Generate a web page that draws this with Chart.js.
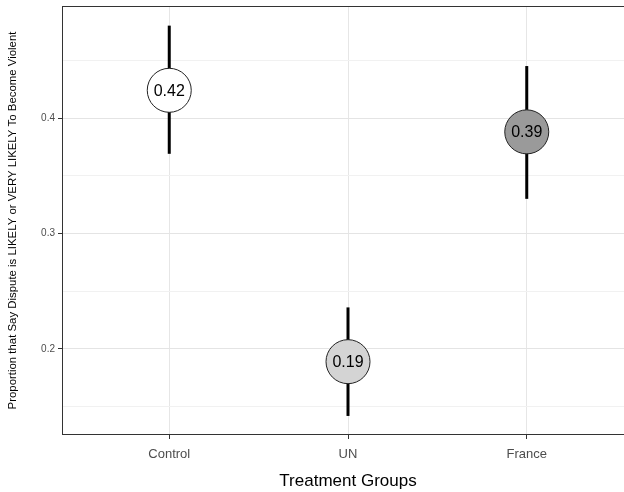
<!DOCTYPE html>
<html>
<head>
<meta charset="utf-8">
<script src="https://cdn.jsdelivr.net/npm/chart.js@4"></script>
<style>
  body { margin: 0; overflow: hidden; background: #fff; }
  #wrap { width: 640px; height: 492px; }
</style>
</head>
<body>
<div id="wrap"><canvas id="myChart" width="640" height="492"></canvas></div>
<script>
'use strict';

let groups = ['Control', 'UN', 'France'];
let groupPos = [1, 2, 3];
let proportions = [0.424, 0.189, 0.388];
let lowerBound = [0.369, 0.142, 0.330];
let upperBound = [0.480, 0.236, 0.445];
let pointLabels = ['0.42', '0.19', '0.39'];
let pointColors = ['#ffffff', '#d4d4d4', '#9a9a9a'];
let yTicks = [0.15, 0.2, 0.25, 0.3, 0.35, 0.4, 0.45];
let yLabelled = [0.2, 0.3, 0.4];

function isMajor(v) {
  return yLabelled.some(m => Math.abs(m - v) < 1e-9);
}

// error bars under the points, labels on top
let errorBars = {
  id: 'errorBars',
  beforeDatasetsDraw(chart) {
    let ctx = chart.ctx;
    let x = chart.scales.x;
    let y = chart.scales.y;
    ctx.save();
    ctx.strokeStyle = '#000';
    ctx.lineWidth = 3;
    for (let i = 0; i < groupPos.length; i++) {
      let px = x.getPixelForValue(groupPos[i]);
      ctx.beginPath();
      ctx.moveTo(px, y.getPixelForValue(lowerBound[i]));
      ctx.lineTo(px, y.getPixelForValue(upperBound[i]));
      ctx.stroke();
    }
    ctx.restore();
  },
  afterDatasetsDraw(chart) {
    let ctx = chart.ctx;
    let meta = chart.getDatasetMeta(0);
    ctx.save();
    ctx.font = '16px "Liberation Sans", Arial, sans-serif';
    ctx.fillStyle = '#000';
    ctx.textAlign = 'center';
    ctx.textBaseline = 'middle';
    meta.data.forEach((pt, i) => {
      ctx.fillText(pointLabels[i], pt.x, pt.y + 1);
    });
    ctx.restore();
  },
  afterDraw(chart) {
    let a = chart.chartArea;
    let ctx = chart.ctx;
    ctx.save();
    ctx.strokeStyle = '#333';
    ctx.lineWidth = 1;
    ctx.strokeRect(a.left + 0.5, a.top + 0.5, a.right - a.left - 1, a.bottom - a.top - 1);
    ctx.restore();
  }
};

let ctx = document.getElementById('myChart').getContext('2d');
let chart = new Chart(ctx, {
  type: 'scatter',
  data: {
    datasets: [{
      data: groupPos.map((g, i) => ({ x: g, y: proportions[i] })),
      backgroundColor: pointColors,
      borderColor: '#222',
      borderWidth: 1,
      pointRadius: 22,
      pointHoverRadius: 22
    }]
  },
  options: {
    responsive: false,
    animation: false,
    layout: { autoPadding: false, padding: { left: 0, top: 6, right: 6, bottom: 0 } },
    plugins: { legend: { display: false }, tooltip: { enabled: false } },
    scales: {
      x: {
        type: 'linear',
        min: 0.4,
        max: 3.6,
        afterBuildTicks(scale) {
          scale.ticks = groupPos.map(v => ({ value: v }));
        },
        afterFit(scale) {
          scale.height = 57;
          scale.paddingLeft = 0;
          scale.paddingRight = 0;
        },
        border: { display: false },
        grid: {
          color: '#e6e6e6',
          lineWidth: 1,
          tickColor: '#333',
          tickLength: 4
        },
        ticks: {
          autoSkip: false,
          maxRotation: 0,
          padding: 8,
          color: '#4d4d4d',
          font: { family: '"Liberation Sans", Arial, sans-serif', size: 13 },
          callback: v => groups[v - 1]
        },
        title: {
          display: true,
          text: 'Treatment Groups',
          color: '#000',
          font: { family: '"Liberation Sans", Arial, sans-serif', size: 17 },
          padding: { top: 4, bottom: 0 }
        }
      },
      y: {
        min: 0.1255,
        max: 0.497,
        afterBuildTicks(scale) {
          scale.ticks = yTicks.map(v => ({ value: v }));
        },
        afterFit(scale) {
          scale.width = 62;
          scale.paddingTop = 0;
          scale.paddingBottom = 0;
        },
        border: { display: false },
        grid: {
          color: c => isMajor(c.tick.value) ? '#e4e4e4' : '#f1f1f1',
          lineWidth: 1,
          tickColor: c => isMajor(c.tick.value) ? '#333' : 'rgba(0,0,0,0)',
          tickLength: 4
        },
        ticks: {
          autoSkip: false,
          padding: 3,
          color: '#4d4d4d',
          font: { family: '"Liberation Sans", Arial, sans-serif', size: 10 },
          callback: v => isMajor(v) ? v.toFixed(1) : ''
        },
        title: {
          display: true,
          text: 'Proportion that Say Dispute is LIKELY or VERY LIKELY To Become Violent',
          color: '#000',
          font: { family: '"Liberation Sans", Arial, sans-serif', size: 11.4 },
          padding: { top: 6, bottom: 0 }
        }
      }
    }
  },
  plugins: [errorBars]
});
</script>
</body>
</html>
